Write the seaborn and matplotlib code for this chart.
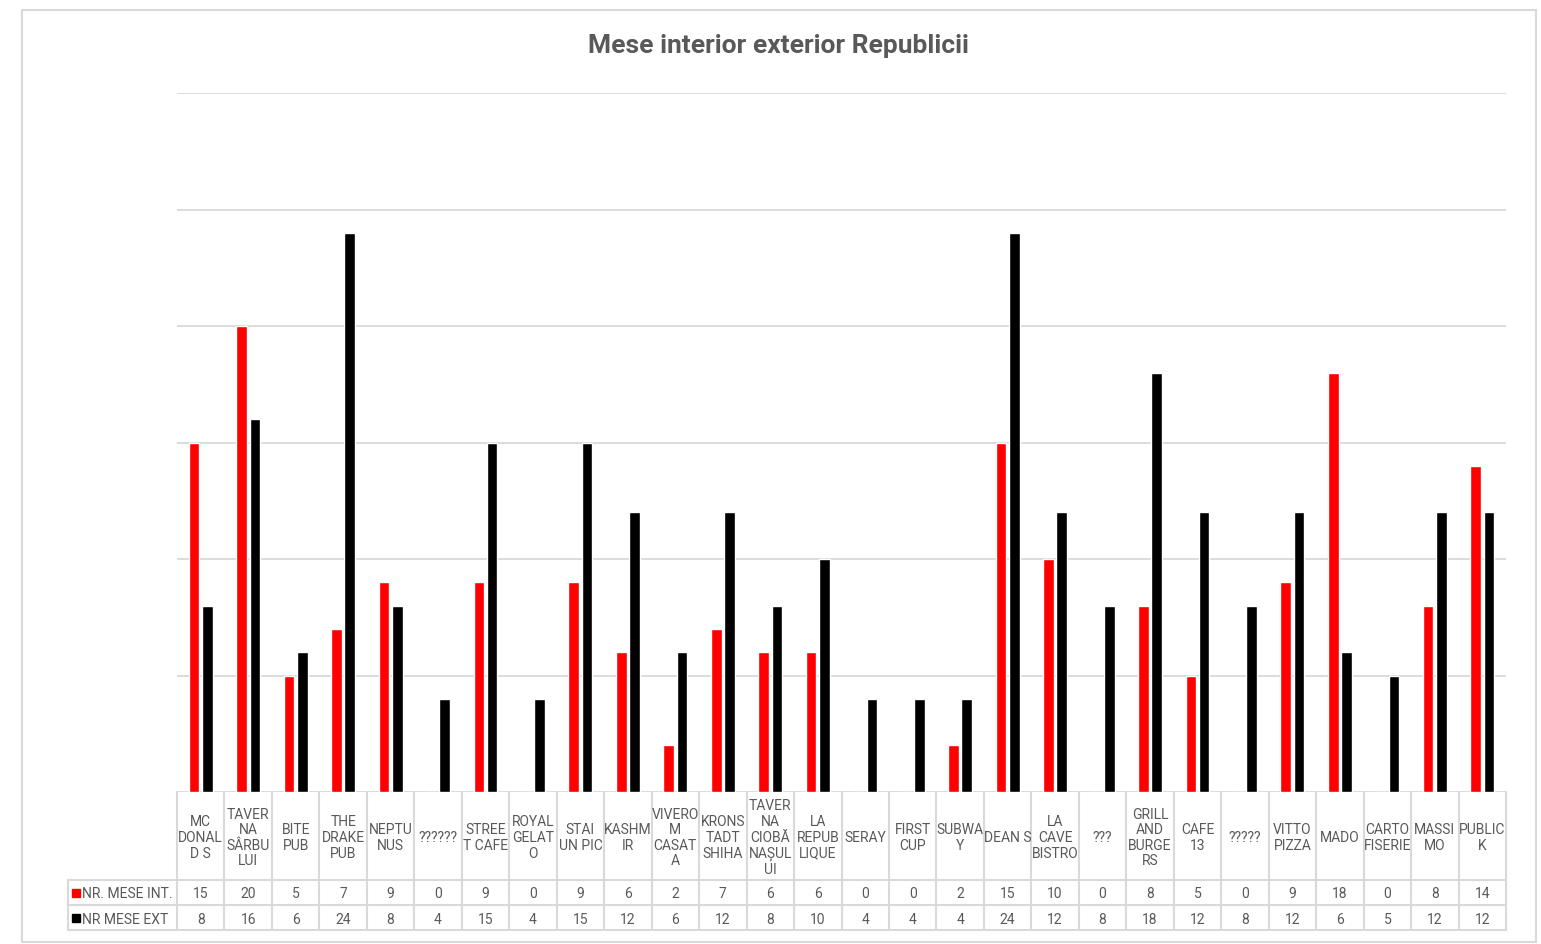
import matplotlib
matplotlib.use("Agg")
import matplotlib.pyplot as plt
import matplotlib.transforms as mtransforms
from matplotlib.patches import Rectangle
from matplotlib.lines import Line2D
import seaborn as sns
import pandas as pd

sns.set_theme(style="white")
plt.rcParams['font.family'] = ['Roboto', 'DejaVu Sans']

title = "Mese interior exterior Republicii"
categories = ["MC\nDONAL\nD S", "TAVER\nNA\nSÂRBU\nLUI", "BITE\nPUB", "THE\nDRAKE\nPUB",
              "NEPTU\nNUS", "??????", "STREE\nT CAFE", "ROYAL\nGELAT\nO", "STAI\nUN PIC",
              "KASHM\nIR", "VIVERO\nM\nCASAT\nA", "KRONS\nTADT\nSHIHA",
              "TAVER\nNA\nCIOBĂ\nNAȘUL\nUI", "LA\nREPUB\nLIQUE", "SERAY", "FIRST\nCUP",
              "SUBWA\nY", "DEAN S", "LA\nCAVE\nBISTRO", "???", "GRILL\nAND\nBURGE\nRS",
              "CAFE\n13", "?????", "VITTO\nPIZZA", "MADO", "CARTO\nFISERIE", "MASSI\nMO",
              "PUBLIC\nK"]
series_names = ["NR. MESE INT.", "NR MESE EXT"]
mese_int = [15, 20, 5, 7, 9, 0, 9, 0, 9, 6, 2, 7, 6, 6, 0, 0, 2, 15, 10, 0, 8, 5, 0, 9, 18, 0, 8, 14]
mese_ext = [8, 16, 6, 24, 8, 4, 15, 4, 15, 12, 6, 12, 8, 10, 4, 4, 4, 24, 12, 8, 18, 12, 8, 12, 6, 5, 12, 12]
colors = ["#ff0000", "#000000"]

df = pd.DataFrame({
    "name": categories * 2,
    "series": [series_names[0]] * len(categories) + [series_names[1]] * len(categories),
    "value": mese_int + mese_ext,
})

W, H = 1541, 944
fig = plt.figure(figsize=(W / 100, H / 100), dpi=100)
left, right, top, bottom = 177, 1506, 93, 792
ax = fig.add_axes([left / W, 1 - bottom / H, (right - left) / W, (bottom - top) / H])

sns.barplot(data=df, x="name", y="value", hue="series", order=categories,
            hue_order=series_names, palette=colors, width=0.56, gap=0.2,
            errorbar=None, legend=False, ax=ax, saturation=1)

grid_c = "#d9d9d9"
text_c = "#595959"
ax.set_xlim(-0.5, len(categories) - 0.5)
ax.set_ylim(0, 30)
ax.set_yticks(range(0, 31, 5))
ax.yaxis.grid(True, color=grid_c, linewidth=1.3)
ax.set_axisbelow(True)
ax.tick_params(left=False, bottom=False, labelleft=False, labelbottom=False)
ax.set_xlabel("")
ax.set_ylabel("")
for s in ax.spines.values():
    s.set_visible(False)

# data table
axh = bottom - top
y_head = -(880 - bottom) / axh
y_r1 = -(905 - bottom) / axh
y_r2 = -(930 - bottom) / axh
x_lab = (68 - left) / (right - left)
bt = mtransforms.blended_transform_factory(ax.transData, ax.transAxes)
ta = ax.transAxes
lw = 1.5
n = len(categories)
for i in range(n + 1):
    ax.add_line(Line2D([i - 0.5, i - 0.5], [0, y_r2], transform=bt, color=grid_c, lw=lw, clip_on=False))
ax.add_line(Line2D([x_lab, x_lab], [y_head, y_r2], transform=ta, color=grid_c, lw=lw, clip_on=False))
for yy in (y_head, y_r1, y_r2):
    ax.add_line(Line2D([x_lab, 1], [yy, yy], transform=ta, color=grid_c, lw=lw, clip_on=False))

fs = 10
dy = -2 / axh
for i, c in enumerate(categories):
    ax.text(i, y_head / 2 + dy, c, transform=bt, ha="center", va="center", fontsize=fs,
            color=text_c, linespacing=1.15, clip_on=False)
    ax.text(i, (y_head + y_r1) / 2 + dy, str(mese_int[i]), transform=bt, ha="center", va="center",
            fontsize=fs, color=text_c, clip_on=False)
    ax.text(i, (y_r1 + y_r2) / 2 + dy, str(mese_ext[i]), transform=bt, ha="center", va="center",
            fontsize=fs, color=text_c, clip_on=False)

sq_w = 8 / (right - left)
sq_h = 8 / axh
for k, (yc, name) in enumerate(zip([(y_head + y_r1) / 2, (y_r1 + y_r2) / 2], series_names)):
    ax.add_patch(Rectangle(((72 - left) / (right - left), yc - sq_h / 2), sq_w, sq_h,
                           transform=ta, color=colors[k], clip_on=False))
    ax.text((82 - left) / (right - left), yc + dy, name, transform=ta, ha="left", va="center",
            fontsize=fs, color=text_c, clip_on=False)

# title and frame
fig.text(778 / W, 1 - 46 / H, title, ha="center", va="center", fontsize=19,
         fontweight="bold", color=text_c)
fig.patches.append(Rectangle((22 / W, 1 - 942 / H), (1536 - 22) / W, (942 - 10) / H,
                             transform=fig.transFigure, fill=False, edgecolor=grid_c, lw=1.5))

fig.savefig("out.png", dpi=100)
